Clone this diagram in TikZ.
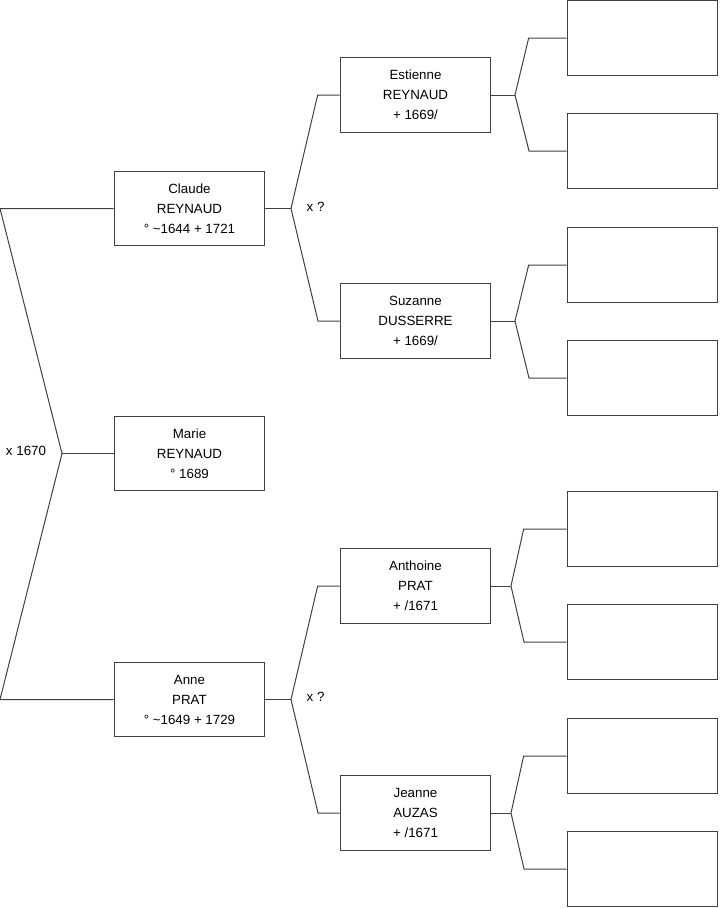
\documentclass[tikz,border=0pt]{standalone}
\usepackage{fontspec}
\setmainfont{Liberation Sans}
\usepackage{xcolor}

\tikzset{
  person/.style={draw=black!75, line width=0.75pt, minimum width=113pt, minimum height=56pt,
    inner sep=0pt, align=center, font=\fontsize{10}{15}\selectfont},
  link/.style={draw=black!75, line width=0.75pt},
  union/.style={font=\fontsize{10}{12}\selectfont}
}

\begin{document}
\begin{tikzpicture}[x=0.75pt, y=-0.75pt]
  \useasboundingbox (0,0) rectangle (719,908);
  % child
  \node[person] (marie) at (189.5,453.5) {Marie\\REYNAUD\\° 1689};
  % parents
  \node[person] (claude) at (189.5,208.5) {Claude\\REYNAUD\\° \textasciitilde 1644 + 1721};
  \node[person] (anne) at (189.5,699.5) {Anne\\PRAT\\° \textasciitilde 1649 + 1729};
  % grandparents
  \node[person] (estienne) at (415.5,95) {Estienne\\REYNAUD\\+ 1669/};
  \node[person] (suzanne) at (415.5,321) {Suzanne\\DUSSERRE\\+ 1669/};
  \node[person] (anthoine) at (415.5,586) {Anthoine\\PRAT\\+ /1671};
  \node[person] (jeanne) at (415.5,813) {Jeanne\\AUZAS\\+ /1671};
  % empty boxes
  \foreach \n/\y in {1/38,2/151,3/265,4/378,5/529,6/642,7/756,8/869}
    \node[person] (e\n) at (642.5,\y) {};

  % marriage of the parents
  \coordinate (m0) at (62,453.5);
  \draw[link] (claude.west) -- (0,208.5) -- (m0) -- (0,699.5) -- (anne.west);
  \draw[link] (m0) -- (marie.west);
  \node[union] (m1670) at (26,451) {x 1670};

  % marriages of the grandparents
  \coordinate (mc) at (291,208.5);
  \draw[link] (claude.east) -- (mc);
  \draw[link] (estienne.west) -- ++(-22,0) -- (mc) -- (318,321) -- (suzanne.west);
  \node[union, anchor=west] (mcq) at (302,207) {x ?};
  \coordinate (ma) at (291,699.5);
  \draw[link] (anne.east) -- (ma);
  \draw[link] (anthoine.west) -- ++(-22,0) -- (ma) -- (318,813) -- (jeanne.west);
  \node[union, anchor=west] (maq) at (302,697) {x ?};

  % forks to the great-grandparents
  \coordinate (fe) at (515,95);
  \draw[link] (estienne.east) -- (fe);
  \draw[link] (e1.west) -- ++(-38,0) -- (fe) -- (529,151) -- (e2.west);
  \coordinate (fs) at (515,321);
  \draw[link] (suzanne.east) -- (fs);
  \draw[link] (e3.west) -- ++(-38,0) -- (fs) -- (529,378) -- (e4.west);
  \coordinate (fa) at (511,586);
  \draw[link] (anthoine.east) -- (fa);
  \draw[link] (e5.west) -- ++(-43,0) -- (fa) -- (524,642) -- (e6.west);
  \coordinate (fj) at (511,813);
  \draw[link] (jeanne.east) -- (fj);
  \draw[link] (e7.west) -- ++(-43,0) -- (fj) -- (524,869) -- (e8.west);
\end{tikzpicture}
\end{document}
